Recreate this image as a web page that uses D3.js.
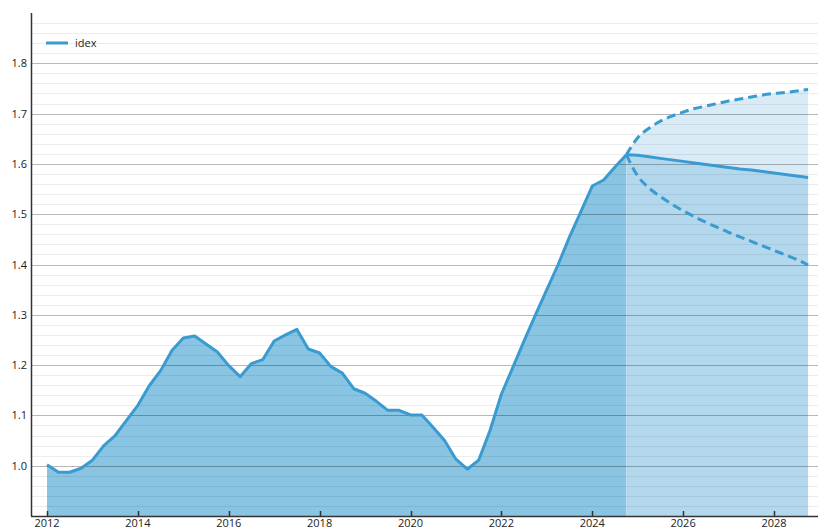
<!DOCTYPE html>
<html lang="en">
<head>
    <meta charset="UTF-8">
    <script src="https://d3js.org/d3.v7.min.js"></script>
    <style>
        body { margin: 0; background: white; }
        text { font-family: "Open Sans", "Noto Sans", sans-serif; fill: #222; }
    </style>
</head>
<body>
    <div id="chart"></div>

    <script>
        // quarterly index, 2012 Q1 .. 2024 Q4
        const histStart = 2012;
        const histValues = [
            1.002, 0.987, 0.987, 0.995,
            1.011, 1.040, 1.060, 1.090,
            1.120, 1.159, 1.189, 1.229,
            1.254, 1.258, 1.242, 1.226,
            1.199, 1.177, 1.203, 1.211,
            1.248, 1.260, 1.271, 1.232,
            1.224, 1.197, 1.184, 1.153,
            1.144, 1.128, 1.110, 1.110,
            1.101, 1.101, 1.076, 1.050,
            1.013, 0.993, 1.011, 1.070,
            1.142, 1.195, 1.248, 1.300,
            1.350, 1.400, 1.455, 1.505,
            1.556, 1.568, 1.594, 1.618
        ];

        // forecast from 2024.75 to 2028.75, quarterly
        const fcStart = 2024.75;
        const fcCentral = [1.618, 1.617, 1.614, 1.611, 1.608, 1.605, 1.602, 1.599, 1.596,
                           1.593, 1.590, 1.588, 1.585, 1.582, 1.579, 1.576, 1.573];
        const fcUpper = [1.618, 1.652, 1.671, 1.685, 1.695, 1.703, 1.710, 1.715, 1.720,
                         1.725, 1.729, 1.733, 1.737, 1.740, 1.742, 1.745, 1.748];
        const fcLower = [1.618, 1.576, 1.552, 1.535, 1.520, 1.507, 1.495, 1.484, 1.474,
                         1.464, 1.455, 1.446, 1.437, 1.428, 1.419, 1.410, 1.399];

        const xTicks = [2012, 2014, 2016, 2018, 2020, 2022, 2024, 2026, 2028];
        const yTicks = [1.0, 1.1, 1.2, 1.3, 1.4, 1.5, 1.6, 1.7, 1.8];
        const seriesName = "idex";

        const width = 818, height = 529;
        const plotL = 31, plotR = 818, plotT = 13, plotB = 516;

        const hist = histValues.map((v, i) => ({ t: histStart + i / 4, v }));
        const fc = fcCentral.map((v, i) => ({ t: fcStart + i / 4, v, hi: fcUpper[i], lo: fcLower[i] }));

        const x = d3.scaleLinear().domain([2012, 2028]).range([47, 774]);
        const y = d3.scaleLinear().domain([0.9, 1.9]).range([plotB, plotT]);

        const svg = d3.select("#chart").append("svg")
            .attr("width", width)
            .attr("height", height);

        const lineColor = "#3a9bd0";

        // fills
        svg.append("path")
            .datum(hist)
            .attr("fill", "#89c4e2")
            .attr("d", d3.area().x(d => x(d.t)).y0(plotB).y1(d => y(d.v)));

        svg.append("path")
            .datum(fc)
            .attr("fill", "#d9ebf6")
            .attr("d", d3.area().curve(d3.curveMonotoneX).x(d => x(d.t)).y0(d => y(d.lo)).y1(d => y(d.hi)));

        svg.append("path")
            .datum(fc)
            .attr("fill", "#b3d8ed")
            .attr("d", d3.area().x(d => x(d.t)).y0(plotB).y1(d => y(d.v)));

        // grid
        const minor = d3.range(0.92, 1.899, 0.02).filter(v => Math.abs(v * 10 - Math.round(v * 10)) > 0.01);
        svg.append("g").selectAll("line")
            .data(minor)
            .join("line")
            .attr("x1", plotL).attr("x2", plotR)
            .attr("y1", d => Math.round(y(d)) + 0.5).attr("y2", d => Math.round(y(d)) + 0.5)
            .attr("stroke", "rgba(0,0,0,0.07)");

        svg.append("g").selectAll("line")
            .data(yTicks)
            .join("line")
            .attr("x1", plotL).attr("x2", plotR)
            .attr("y1", d => Math.round(y(d)) + 0.5).attr("y2", d => Math.round(y(d)) + 0.5)
            .attr("stroke", "rgba(0,0,0,0.28)");

        // lines
        svg.append("path")
            .datum(hist)
            .attr("fill", "none")
            .attr("stroke", lineColor)
            .attr("stroke-width", 3)
            .attr("stroke-linejoin", "round")
            .attr("d", d3.line().x(d => x(d.t)).y(d => y(d.v)));

        svg.append("path")
            .datum(fc)
            .attr("fill", "none")
            .attr("stroke", lineColor)
            .attr("stroke-width", 3)
            .attr("d", d3.line().x(d => x(d.t)).y(d => y(d.v)));

        ["hi", "lo"].forEach(k => {
            svg.append("path")
                .datum(fc)
                .attr("fill", "none")
                .attr("stroke", lineColor)
                .attr("stroke-width", 3)
                .attr("stroke-dasharray", "9,5")
                .attr("d", d3.line().curve(d3.curveMonotoneX).x(d => x(d.t)).y(d => y(d[k])));
        });

        // axes
        svg.append("line")
            .attr("x1", plotL + 0.5).attr("x2", plotL + 0.5)
            .attr("y1", plotT).attr("y2", plotB)
            .attr("stroke", "#333").attr("stroke-width", 1.5);
        svg.append("line")
            .attr("x1", plotL).attr("x2", plotR)
            .attr("y1", plotB + 0.5).attr("y2", plotB + 0.5)
            .attr("stroke", "#333").attr("stroke-width", 1.5);

        svg.append("g").selectAll("line")
            .data(xTicks)
            .join("line")
            .attr("x1", d => Math.round(x(d)) + 0.5).attr("x2", d => Math.round(x(d)) + 0.5)
            .attr("y1", plotB - 5).attr("y2", plotB)
            .attr("stroke", "#333").attr("stroke-width", 1.5);

        svg.append("g").selectAll("text")
            .data(xTicks)
            .join("text")
            .attr("x", d => x(d))
            .attr("y", plotB + 11)
            .attr("text-anchor", "middle")
            .attr("font-size", 11)
            .text(d => d);

        svg.append("g").selectAll("text")
            .data(yTicks)
            .join("text")
            .attr("x", 27)
            .attr("y", d => y(d) + 4)
            .attr("text-anchor", "end")
            .attr("font-size", 11)
            .text(d => d.toFixed(1));

        // legend
        svg.append("line")
            .attr("x1", 46).attr("x2", 68)
            .attr("y1", 43).attr("y2", 43)
            .attr("stroke", lineColor).attr("stroke-width", 3);
        svg.append("text")
            .attr("x", 75).attr("y", 47)
            .attr("font-size", 11)
            .text(seriesName);
    </script>
</body>
</html>
